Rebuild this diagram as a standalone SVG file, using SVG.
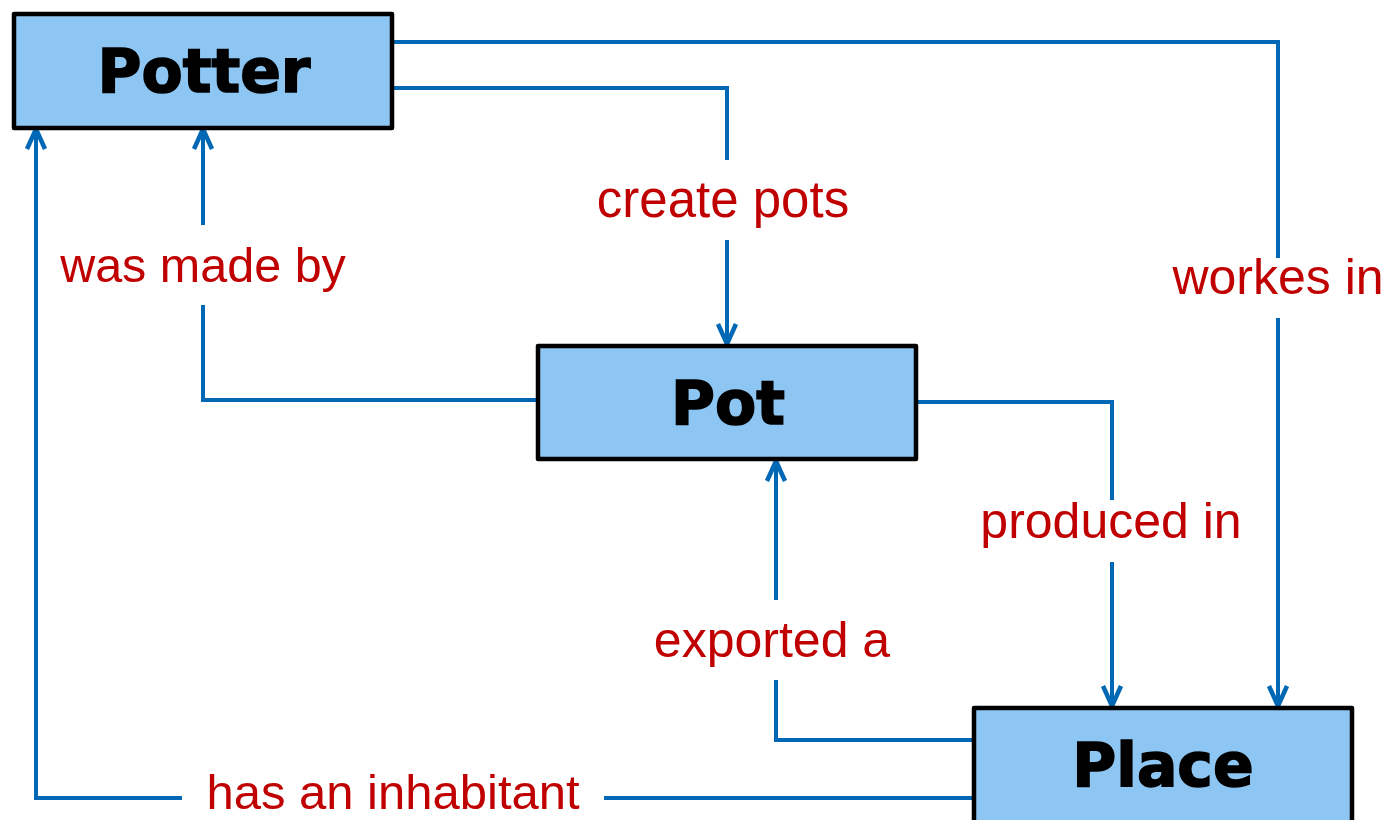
<svg xmlns="http://www.w3.org/2000/svg" width="1390" height="820" viewBox="0 0 1390 820">
<style>
.box{fill:#8DC6F2;stroke:#000;stroke-width:4.5;stroke-linejoin:round}
.name{font-family:"DejaVu Sans",sans-serif;font-weight:bold;font-size:60px;fill:#000;stroke:#000;stroke-width:1.6;text-anchor:middle}
.ln{fill:none;stroke:#0068B5;stroke-width:4}
.lbl{font-family:"Liberation Sans",Arial,sans-serif;font-size:50px;fill:#C00000;text-anchor:middle}
</style>
<defs>
<marker id="arr" viewBox="-5 -5 30 30" refX="18" refY="10" markerWidth="30" markerHeight="30" markerUnits="userSpaceOnUse" orient="auto" overflow="visible">
<path d="M-2,1 L18,10 L-2,19" fill="none" stroke="#0068B5" stroke-width="4.5"/>
</marker>
</defs>
<g id="connectors">
<path class="ln" d="M392,42 H1278 V258"/>
<path class="ln" d="M1278,318 V706" marker-end="url(#arr)"/>
<path class="ln" d="M392,88 H727 V160"/>
<path class="ln" d="M727,240 V344" marker-end="url(#arr)"/>
<path class="ln" d="M537,400 H203 V305"/>
<path class="ln" d="M203,225 V129" marker-end="url(#arr)"/>
<path class="ln" d="M916,402 H1112 V500"/>
<path class="ln" d="M1112,562 V706" marker-end="url(#arr)"/>
<path class="ln" d="M973,740 H776 V680"/>
<path class="ln" d="M776,600 V461" marker-end="url(#arr)"/>
<path class="ln" d="M973,798 H604"/>
<path class="ln" d="M182,798 H36 V129" marker-end="url(#arr)"/>
<text class="lbl" x="1278" y="294">workes in</text>
<text class="lbl" x="723" y="217" style="font-size:51px">create pots</text>
<text class="lbl" x="203" y="282" style="font-size:48.5px">was made by</text>
<text class="lbl" x="1111" y="538">produced in</text>
<text class="lbl" x="772" y="657">exported a</text>
<text class="lbl" x="393" y="809" style="font-size:49px">has an inhabitant</text>
</g>
<g id="potter">
<rect class="box" x="14" y="14" width="378" height="114"/>
<text class="name" x="204" y="92">Potter</text>
</g>
<g id="pot">
<rect class="box" x="538" y="346" width="378" height="113"/>
<text class="name" x="728" y="424">Pot</text>
</g>
<g id="place">
<rect class="box" x="974" y="708" width="378" height="116"/>
<text class="name" x="1163" y="786">Place</text>
</g>
</svg>
